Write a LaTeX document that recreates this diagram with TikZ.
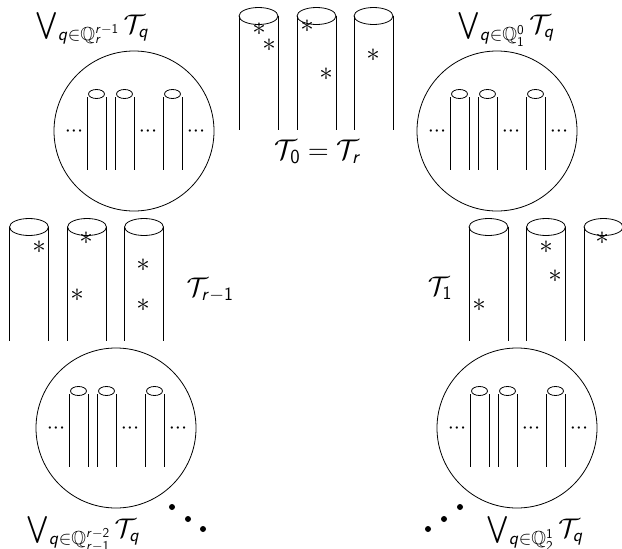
\RequirePackage{fix-cm}
\documentclass[tikz,border=0pt]{standalone}
\usepackage{amsmath,amssymb}
% slanted sans letters and upright sans digits for the formulas
\DeclareMathAlphabet{\mathsfsl}{OT1}{cmss}{m}{sl}
\newcommand{\vq}{\mathsfsl{q}}
\newcommand{\vr}{\mathsfsl{r}}
\newcommand{\sdig}[1]{\mathsf{#1}}
% three close dots between the thin pipes
\newcommand{\tridots}{\mathord{\cdot}\mathord{\cdot}\mathord{\cdot}}

\tikzset{
  bigpipe/.pic={
    \draw (-19.5,0) -- (-19.5,114);
    \draw (19.5,0) -- (19.5,114);
    \draw (0,0) ellipse [x radius=19.5pt, y radius=8.5pt];
  },
  smallpipe/.pic={
    \draw (-9.5,3) -- (-9.5,76);
    \draw (9.5,3) -- (9.5,76);
    \draw (0,0) ellipse [x radius=8pt, y radius=4.5pt];
  }
}

\begin{document}
\begin{tikzpicture}[x=1pt, y=-1pt, line width=0.8pt,
  lbl/.style={inner sep=0pt, font=\fontsize{27}{32}\selectfont},
  star/.style={inner sep=0pt, font=\fontsize{27}{32}\selectfont},
  gap/.style={inner sep=0pt, font=\fontsize{22}{26}\selectfont},
  bigdot/.style={circle, fill, inner sep=0pt, minimum size=6pt},
  ring/.style={circle, draw, minimum size=160pt, inner sep=0pt}]
\useasboundingbox (0,0) rectangle (622,549);

% four bundles of thin pipes inside circles
\foreach \nm/\cx/\cy in {tl/134/131, tr/497/131, bl/116/428, br/517/428} {
  \begin{scope}[shift={(\cx,\cy)}]
    \node[ring] (\nm) at (0,0) {};
    \pic at (-37.5,-37) {smallpipe};
    \pic at (-9.5,-37) {smallpipe};
    \pic at (38.5,-37) {smallpipe};
    \node[gap] (\nm-g1) at (-60,1) {$\tridots$};
    \node[gap] (\nm-g2) at (14,1) {$\tridots$};
    \node[gap] (\nm-g3) at (62,1) {$\tridots$};
  \end{scope}
}

% three rows of thick pipes
\foreach \px in {258.5, 316.5, 373.5} { \pic at (\px,16) {bigpipe}; }
\foreach \px in {29, 87, 144} { \pic at (\px,227) {bigpipe}; }
\foreach \px in {488.5, 546, 603.5} { \pic at (\px,227) {bigpipe}; }

% marked points on the pipes
\foreach \sx/\sy [count=\i] in {259/29, 269/45, 307/26, 326/74, 373/55,
    39/247, 86/238, 77/295, 143/265, 143/305,
    479/305, 546/247, 555/276, 602/238} {
  \node[star] (s\i) at (\sx,\sy) {$\ast$};
}

% labels
\node[lbl, anchor=base west] (ltl) at (35,33)
  {$\bigvee_{\vq\in\mathbb{Q}_{\vr}^{\vr-\sdig{1}}}\mathcal{T}_{\vq}$};
\node[lbl, anchor=base west] (ltr) at (457,33)
  {$\bigvee_{\vq\in\mathbb{Q}_{\sdig{1}}^{\sdig{0}}}\mathcal{T}_{\vq}$};
\node[lbl, anchor=base west] (lbl) at (26,537)
  {$\bigvee_{\vq\in\mathbb{Q}_{\vr-\sdig{1}}^{\vr-\sdig{2}}}\mathcal{T}_{\vq}$};
\node[lbl, anchor=base west] (lbr) at (486,537)
  {$\bigvee_{\vq\in\mathbb{Q}_{\sdig{2}}^{\sdig{1}}}\mathcal{T}_{\vq}$};
\node[lbl, font=\fontsize{28.5}{33}\selectfont] (t0) at (318,152)
  {$\mathcal{T}_{\sdig{0}}=\mathcal{T}_{\vr}$};
\node[lbl] (tr1) at (210,290) {$\mathcal{T}_{\vr-\sdig{1}}$};
\node[lbl] (t1) at (440,288) {$\mathcal{T}_{\sdig{1}}$};

% continuation dots
\node[bigdot] (dl1) at (172,507) {};
\node[bigdot] (dl2) at (188,519) {};
\node[bigdot] (dl3) at (203,529) {};
\node[bigdot] (dr1) at (428,529) {};
\node[bigdot] (dr2) at (444,519) {};
\node[bigdot] (dr3) at (460,507) {};
\end{tikzpicture}
\end{document}
